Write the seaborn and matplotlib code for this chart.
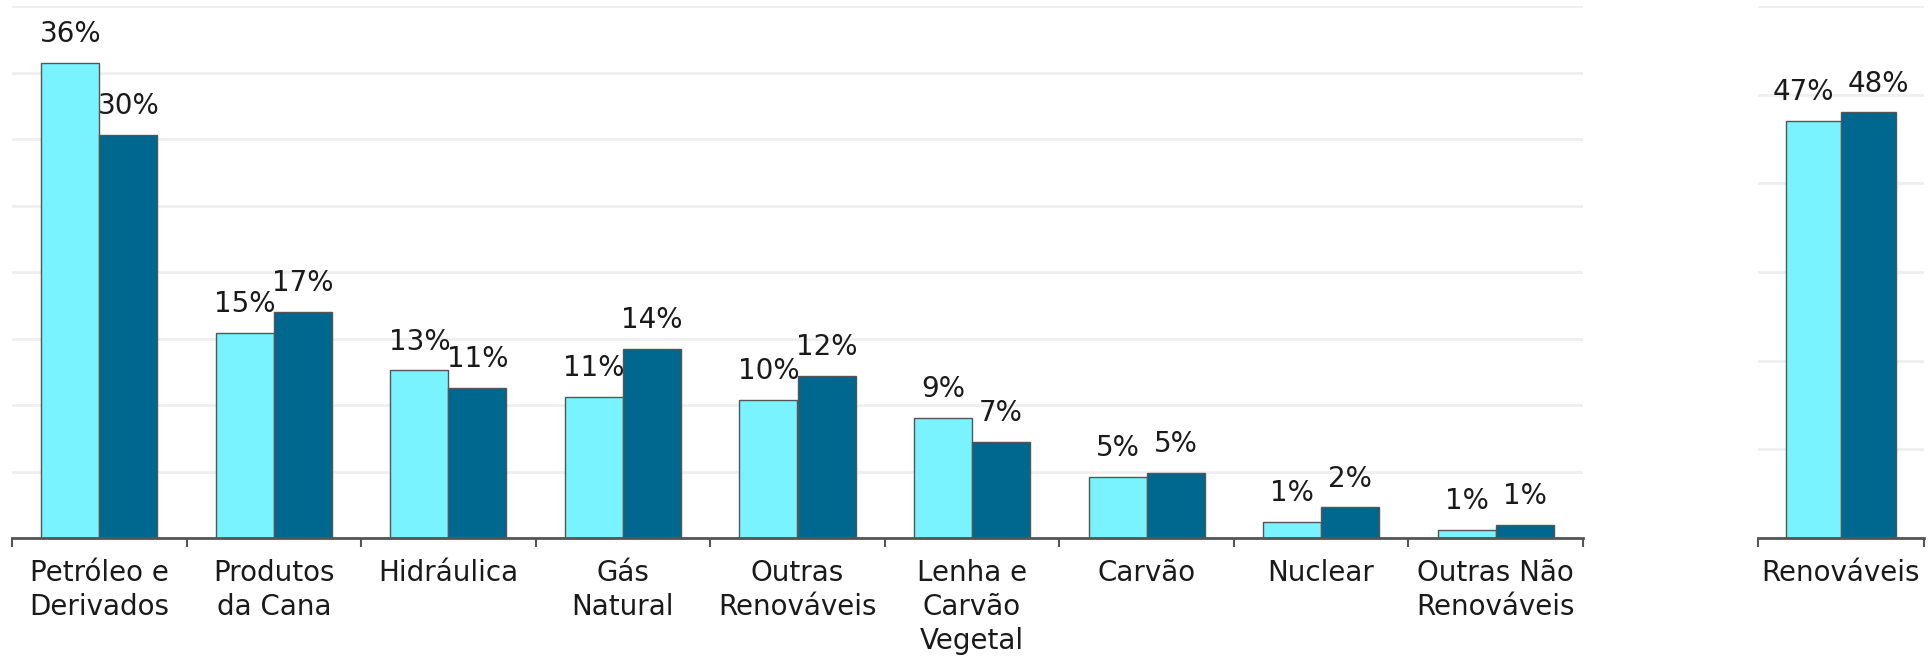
import pandas as pd
import numpy as np

import seaborn as sns
import matplotlib.pyplot as plt

sns.set_style('white')
plt.rcParams['font.family'] = ['DejaVu Sans']

# fontes (painel esquerdo) e valores, em %
fontes = ['Petróleo e\nDerivados', 'Produtos\nda Cana', 'Hidráulica', 'Gás\nNatural',
          'Outras\nRenováveis', 'Lenha e\nCarvão\nVegetal', 'Carvão', 'Nuclear',
          'Outras Não\nRenováveis']
serie_a = [35.7, 15.4, 12.6, 10.6, 10.4, 9.0, 4.6, 1.2, 0.6]
serie_b = [30.3, 17.0, 11.3, 14.2, 12.2, 7.2, 4.9, 2.3, 1.0]

# painel direito
renov_cat = ['Renováveis']
renov_a = [47.0]
renov_b = [48.0]

series = ['Série A', 'Série B']
cores = ['#78F3FF', '#00678F']

df = pd.DataFrame({
    'fonte': fontes * 2,
    'serie': [series[0]] * len(fontes) + [series[1]] * len(fontes),
    'valor': serie_a + serie_b,
})
df_r = pd.DataFrame({
    'fonte': renov_cat * 2,
    'serie': [series[0], series[1]],
    'valor': renov_a + renov_b,
})

fig = plt.figure(figsize=(19.3, 6.58), dpi=100)
ax1 = fig.add_axes([12 / 1930, 120 / 658, (1583 - 12) / 1930, 532 / 658])
ax2 = fig.add_axes([1758 / 1930, 120 / 658, (1924 - 1758) / 1930, 532 / 658])


def desenha(ax, dados, ymax, passo, deslocar=False):
    sns.barplot(data=dados, x='fonte', y='valor', hue='serie', palette=cores,
                saturation=1, width=0.665, edgecolor='#555555', linewidth=1.0,
                ax=ax, legend=False, zorder=3)
    n = dados['fonte'].nunique()
    ax.set_xlim(-0.5, n - 0.5)
    ax.set_ylim(0, ymax)
    ax.set_yticks(np.arange(0, ymax + passo, passo))
    ax.set_yticklabels([])
    ax.grid(axis='y', color='#efefef', linewidth=2, zorder=0)
    ax.set_axisbelow(True)
    for s in ['top', 'right', 'left']:
        ax.spines[s].set_visible(False)
    ax.spines['bottom'].set_color('#555555')
    ax.spines['bottom'].set_linewidth(2)
    ax.spines['bottom'].set_zorder(4)
    ax.set_xlabel('')
    ax.set_ylabel('')
    # ticks nas divisas das categorias, rótulos no centro
    ax.set_xticks(np.arange(-0.5, n, 1.0))
    ax.set_xticklabels([])
    ax.set_xticks(np.arange(n), minor=True)
    ax.set_xticklabels(dados['fonte'].unique(), minor=True, fontsize=20,
                       linespacing=1.28, color='#1a1a1a')
    ax.tick_params(axis='x', which='major', bottom=True, length=6.5, width=1.5,
                   color='#555555', direction='out')
    ax.tick_params(axis='x', which='minor', bottom=True, length=0, pad=15)
    ax.tick_params(axis='y', left=False, length=0)
    for i, cont in enumerate(ax.containers):
        for barra in cont:
            h = barra.get_height()
            dx = 0
            if deslocar:
                dx = -7 if i == 0 else 7
            ax.annotate(f'{round(h):.0f}%',
                        (barra.get_x() + barra.get_width() / 2, h),
                        xytext=(dx, 15), textcoords='offset points',
                        ha='center', va='baseline', fontsize=20,
                        color='#1a1a1a')


desenha(ax1, df, 40, 5)
desenha(ax2, df_r, 60, 10, deslocar=True)

plt.savefig('out.png', dpi=100)
